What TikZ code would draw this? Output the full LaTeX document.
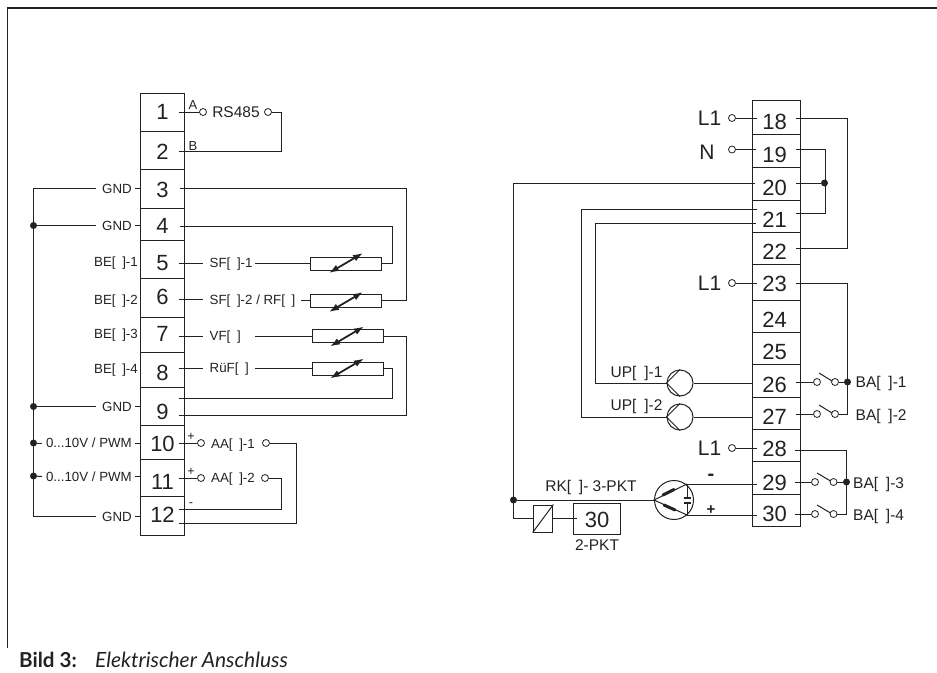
\documentclass[tikz,border=0pt]{standalone}
\usepackage{fontspec}
\setmainfont{Liberation Sans}
\newfontfamily\capfont{Lato}
\usetikzlibrary{arrows.meta}
\definecolor{ink}{HTML}{222222}
\newcommand{\gp}{\hspace{.5em}}
\tikzset{
  wire/.style={line width=1pt,draw=ink},
  txt/.style={font=\fontsize{#1}{#1}\selectfont,text=ink,inner sep=0pt,text depth=0pt,text height=0.716*#1pt},
  cell/.style={draw=ink,line width=.9pt,inner sep=0pt,minimum width=#1},
  term/.style={circle,draw=ink,line width=.8pt,fill=white,inner sep=0pt,minimum size=7pt},
  junc/.style={circle,fill=ink,inner sep=0pt,minimum size=7pt},
  rheo/.style={draw=ink,line width=1pt,inner sep=0pt,minimum width=71pt,minimum height=13pt},
  adj/.style={line width=1.8pt,draw=ink,{Latex[length=10pt,width=7pt]}-{Latex[length=10pt,width=7pt]}},
  pump/.style={circle,draw=ink,line width=1pt,inner sep=0pt,minimum size=26pt},
  boxn/.style={draw=ink,line width=1pt,inner sep=0pt},
}
\begin{document}
\begin{tikzpicture}[x=1pt,y=-1pt]
\useasboundingbox (0,0) rectangle (937,672);
% frame
\coordinate (fb) at (7.5,648);
\coordinate (fc) at (7.5,8);
\coordinate (fr) at (937,8);
\draw[line width=1.3pt,draw=ink] (fb) -- (fc) -- (fr);
% left terminal strip
\foreach \n/\a/\b/\d in {1/93/131/112,2/131/169/152,3/169/208/190,4/208/240/226,5/240/278/263,6/278/317/297,7/317/352/334,8/352/387/373,9/387/425/412,10/425/459/444,11/459/496/482,12/496/535/515}{
  \pgfmathsetmacro\h{\b-\a}\pgfmathsetmacro\m{(\a+\b)/2}
  \node[cell=44.5pt,minimum height=\h pt] (t\n) at (162.5,\m) {};
  \node[txt=22] (d\n) at (162.5,\d) {\n};
}
% right terminal strip
\foreach \n/\a/\b/\d in {18/100/134/122,19/134/167/155,20/167/200/188,21/200/232/220,22/232/264/252,23/264/300/284,24/300/332/320,25/332/364/352,26/364/397/385,27/397/429/417,28/429/461/449,29/461/494/483,30/494/526/514}{
  \pgfmathsetmacro\h{\b-\a}\pgfmathsetmacro\m{(\a+\b)/2}
  \node[cell=47.5pt,minimum height=\h pt] (t\n) at (776.5,\m) {};
  \node[txt=22] (d\n) at (774.5,\d) {\n};
}
% RS485
\coordinate (a1) at (179,112); \coordinate (a2) at (179,151.5); \coordinate (k1) at (281,151.5);
\node[term] (c1) at (203,112) {};
\node[txt=15.5] (rs) at (236,112) {RS485};
\node[term] (c1b) at (268,112) {};
\draw[wire] (a1) -- (c1);
\draw[wire] (c1b) -| (k1) -- (a2);
\node[txt=13] (lA) at (193,105) {A};
\node[txt=13] (lB) at (193,146) {B};
% sensors
\node[rheo] (r1) at (346,263.5) {};
\node[rheo] (r2) at (346,300.5) {};
\node[rheo] (r3) at (347.5,336) {};
\node[rheo] (r4) at (347.5,368.5) {};
\foreach \i/\x/\y in {1/346/263,2/346/302,3/347/336.5,4/347/368.5}{
  \coordinate (ra\i) at (\x-17,\y+10);
  \coordinate (rb\i) at (\x+17,\y-10);
  \draw[adj] (ra\i) -- (rb\i);
}
\coordinate (a3) at (180,188.5); \coordinate (k3) at (406.5,188.5);
\coordinate (a4) at (180,226.5); \coordinate (k4) at (392.5,226.5);
\draw[wire] (a3) -- (k3) |- (r2.east);
\draw[wire] (a4) -- (k4) |- (r1.east);
\coordinate (a9a) at (179,398.5); \coordinate (k9a) at (392.5,398.5);
\coordinate (a9b) at (179,415.5); \coordinate (k9b) at (406.5,415.5);
\draw[wire] (r4.east) -| (k9a) -- (a9a);
\draw[wire] (r3.east) -| (k9b) -- (a9b);
% sensor labels
\foreach \i/\y/\t in {5/263/{SF[\gp]-1},6/299.5/{SF[\gp]-2 / RF[\gp]},7/336/{VF[\gp]},8/368/{RüF[\gp]}}{
  \node[txt=13.3,anchor=west] (s\i) at (209.5,\y) {\t};
  \coordinate (sa\i) at (178.5,\y);
  \coordinate (sb\i) at (203,\y);
  \draw[wire] (sa\i) -- (sb\i);
}
\coordinate (q5) at (255,263.5); \draw[wire] (q5) -- (r1.west);
\coordinate (q6) at (301,300.5); \draw[wire] (q6) -- (r2.west);
\coordinate (q7) at (255,336); \draw[wire] (q7) -- (r3.west);
\coordinate (q8) at (255,368.5); \draw[wire] (q8) -- (r4.west);
% BE labels
\foreach \i/\y/\t in {1/262/{BE[\gp]-1},2/300/{BE[\gp]-2},3/334/{BE[\gp]-3},4/369/{BE[\gp]-4}}{
  \node[txt=13.3,anchor=east] (be\i) at (138,\y) {\t};
}
% GND bus
\coordinate (bt) at (33.5,188.5); \coordinate (bb) at (33.5,516.5);
\node[junc] (j4) at (33.5,225.5) {};
\node[junc] (j9) at (33.5,406.5) {};
\node[junc] (j10) at (33.5,443) {};
\node[junc] (j11) at (33.5,476) {};
\coordinate (g3) at (96,188.5); \coordinate (g12) at (96,516.5);
\coordinate (g4) at (96,225.5); \coordinate (g9) at (96,406.5);
\draw[wire] (g3) -- (bt) -- (bb) -- (g12);
\draw[wire] (j4) -- (g4);
\draw[wire] (j9) -- (g9);
\foreach \i/\y in {3/188.5,4/225.5,9/406.5,12/516.5}{
  \node[txt=13.3] (gn\i) at (117,\y) {GND};
  \coordinate (ga\i) at (135,\y);
  \coordinate (gb\i) at (140,\y);
  \draw[wire] (ga\i) -- (gb\i);
}
\foreach \i/\y in {10/443,11/476.5}{
  \node[txt=13.3,anchor=east] (pw\i) at (132,\y) {0...10V / PWM};
  \coordinate (ga\i) at (42,\y);
  \draw[wire] (j\i) -- (ga\i);
  \coordinate (gc\i) at (134.5,\y);
  \coordinate (gb\i) at (140,\y);
  \draw[wire] (gc\i) -- (gb\i);
}
% analog outputs
\node[term] (c10) at (201,443) {};
\node[term] (c11) at (201,478) {};
\coordinate (a10) at (179,443); \coordinate (a11) at (179,478);
\draw[wire] (a10) -- (c10);
\draw[wire] (a11) -- (c11);
\node[txt=12.5] (p10) at (191,436) {+};
\node[txt=12.5] (p11) at (191,471) {+};
\node[txt=12.5] (m12) at (191,502) {-};
\node[txt=13.3,anchor=west] (aa1) at (211,444) {AA[\gp]-1};
\node[txt=13.3,anchor=west] (aa2) at (211,478) {AA[\gp]-2};
\node[term] (c10b) at (266,443) {};
\node[term] (c11b) at (265,478) {};
\coordinate (a12a) at (179,509.5); \coordinate (k11) at (281,509.5);
\coordinate (a12b) at (179,523.5); \coordinate (k10) at (296,523.5);
\draw[wire] (c11b) -| (k11) -- (a12a);
\draw[wire] (c10b) -| (k10) -- (a12b);
% ---- right side ----
\foreach \i/\y/\t in {a/118/L1,c/283/L1,d/448/L1}{
  \node[txt=21,anchor=east] (L\i) at (721.5,\y) {\t};
  \node[term] (cL\i) at (732,\y) {};
  \coordinate (eL\i) at (757,\y);
  \draw[wire] (cL\i) -- (eL\i);
}
\node[txt=21] (Nt) at (707,152) {N};
\node[term] (cN) at (732,149.5) {};
\coordinate (eN) at (756,149.5);
\draw[wire] (cN) -- (eN);
% bridges
\coordinate (r18) at (796,118); \coordinate (r22) at (796,248); \coordinate (k18) at (847,248);
\draw[wire] (r18) -| (k18) -- (r22);
\coordinate (r19) at (796,149.5); \coordinate (r21) at (796,213.5); \coordinate (k19) at (825,213.5);
\draw[wire] (r19) -| (k19) -- (r21);
\node[junc] (j20) at (824.5,183) {};
\coordinate (r20) at (796,183);
\draw[wire] (r20) -- (j20);
% main line from 20
\coordinate (l20) at (755,183.5); \coordinate (k20) at (513.5,183.5);
\node[junc] (j30) at (513.5,500) {};
\coordinate (k30) at (513.5,518.5);
\node[boxn,minimum width=19.7pt,minimum height=27pt] (rel) at (543,518.5) {};
\draw[wire] (l20) -- (k20) -- (k30) -- (rel.west);
\draw[wire] (rel.south west) -- (rel.north east);
\node[boxn,minimum width=47pt,minimum height=31pt] (b30) at (596.5,518.5) {};
\node[txt=22] (n30) at (597,520) {30};
\coordinate (e30) at (577,518.5);
\draw[wire] (rel.east) -- (e30);
\node[txt=15.5] (pkt2) at (597,545) {2-PKT};
\node[txt=15.5] (rk) at (591,486) {RK[\gp]- 3-PKT};
% valve
\node[pump,minimum size=39pt] (v) at (674,500) {};
\draw[wire] (j30) -- (v.west);
\coordinate (vp) at (687,484); \coordinate (vm) at (687,515);
\draw[wire] (vp) -- (v.west) -- (vm);
\coordinate (vc1) at (687,497.5); \coordinate (vc2) at (687,502.5);
\draw[wire] (vp) -- (vc1);
\draw[wire] (vc2) -- (vm);
\foreach \c in {vc1,vc2}{\draw[line width=2pt,draw=ink] ([xshift=-3.5pt]\c) -- ([xshift=3.5pt]\c);}
\coordinate (ba1) at (663,495); \coordinate (ba2) at (674,489.5);
\coordinate (bb1) at (664,505); \coordinate (bb2) at (675,510);
\draw[line width=3pt,draw=ink,line cap=round] (ba1) -- (ba2);
\draw[line width=3pt,draw=ink,line cap=round] (bb1) -- (bb2);
\coordinate (e29) at (757,484); \coordinate (e30b) at (757,515);
\draw[wire] (vp) -- (e29);
\draw[wire] (vm) -- (e30b);
\node[font=\fontsize{20}{20}\bfseries\selectfont,text=ink,inner sep=0pt] (mn) at (711,477) {-};
\node[font=\fontsize{15}{15}\bfseries\selectfont,text=ink,inner sep=0pt] (pl) at (711,510) {+};
% pumps
\node[pump] (p1) at (680,383) {};
\node[pump] (p2) at (680,417) {};
\draw[wire] (p1.north) -- (p1.west) -- (p1.south);
\draw[wire] (p2.north) -- (p2.west) -- (p2.south);
\coordinate (l21a) at (757,209.5); \coordinate (k21a) at (581.5,209.5);
\coordinate (l21b) at (756,223.5); \coordinate (k21b) at (595.5,223.5);
\draw[wire] (l21a) -- (k21a) |- (p2.west);
\draw[wire] (l21b) -- (k21b) |- (p1.west);
\coordinate (l26) at (752,383); \coordinate (l27) at (752,417);
\draw[wire] (p1.east) -- (l26);
\draw[wire] (p2.east) -- (l27);
\node[txt=15.5,anchor=west] (up1) at (610.5,372) {UP[\gp]-1};
\node[txt=15.5,anchor=west] (up2) at (610.5,405) {UP[\gp]-2};
% switches
\coordinate (r23) at (796,283); \coordinate (k23) at (847.5,283);
\coordinate (r28) at (795,450); \coordinate (k28) at (846.5,450);
\foreach \i/\y/\xa/\xb/\xr/\xe in {26/382/817/835/796/847.5,27/414/817/835/796/847.5,29/482/815/833.5/795/846.5,30/514/815/833.5/795/846.5}{
  \coordinate (s\i) at (\xr,\y);
  \node[term] (swa\i) at (\xa,\y) {};
  \node[term] (swb\i) at (\xb,\y) {};
  \coordinate (bl\i) at (\xa+2,\y-9);
  \coordinate (br\i) at (\xb-3,\y-1);
  \coordinate (se\i) at (\xe,\y);
  \draw[wire] (s\i) -- (swa\i);
  \draw[wire] (bl\i) -- (br\i);
  \draw[wire] (swb\i) -- (se\i);
}
\draw[wire] (r23) -- (k23) -- (se27);
\draw[wire] (r28) -- (k28) -- (se30);
\node[junc] (j26) at (se26) {};
\node[junc] (j29) at (se29) {};
\node[txt=15.5,anchor=west] (ba1t) at (855.5,382) {BA[\gp]-1};
\node[txt=15.5,anchor=west] (ba2t) at (855.5,414.5) {BA[\gp]-2};
\node[txt=15.5,anchor=west] (ba3t) at (853,483) {BA[\gp]-3};
\node[txt=15.5,anchor=west] (ba4t) at (853,514.5) {BA[\gp]-4};
% caption
\node[font=\capfont\fontsize{20.6}{21}\bfseries\selectfont,text=ink,inner sep=0pt,anchor=base west] (cap1) at (19,667) {Bild 3:};
\node[font=\capfont\fontsize{21}{21}\itshape\selectfont,text=ink,inner sep=0pt,anchor=base west] (cap2) at (95,667) {Elektrischer Anschluss};
\end{tikzpicture}
\end{document}
